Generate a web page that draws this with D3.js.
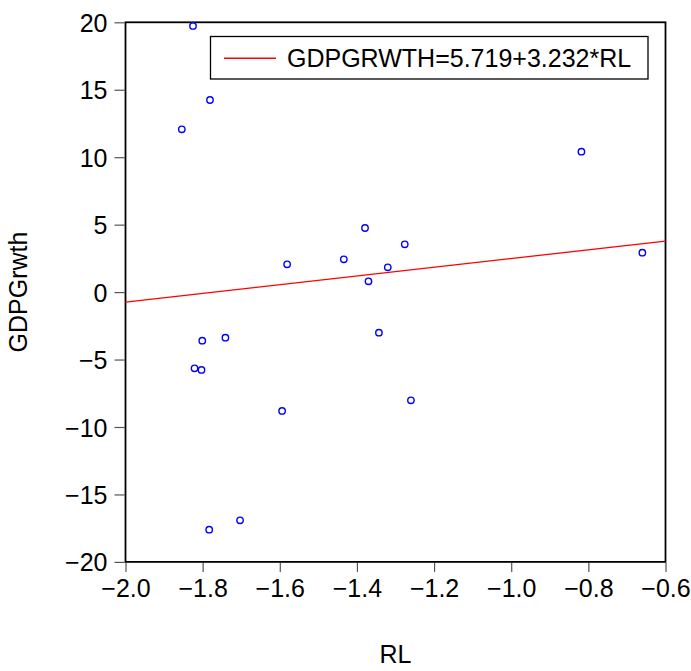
<!DOCTYPE html>
<html>
<head>
<meta charset="utf-8">
<script src="https://cdn.jsdelivr.net/npm/d3@7"></script>
<style>
html,body{margin:0;padding:0;background:#fff;}
svg{display:block;font-family:"Liberation Sans",Arial,sans-serif;}
</style>
</head>
<body>
<svg id="chart" width="691" height="671"></svg>
<script>
const rlValues = [-1.379,-1.276,-1.581,-1.434,-1.320,-1.370,-1.801,-1.741,-1.821,-1.803,-1.343,-1.594,-1.260,-1.825,-1.781,-1.854,-1.783,-1.703,-0.818,-0.660];
const gdpValues = [4.75,3.54,2.06,2.43,1.84,0.80,-3.60,-3.38,-5.65,-5.77,-3.01,-8.81,-8.02,19.73,14.24,12.07,-17.61,-16.92,10.41,2.92];
const xTicks = [-2.0,-1.8,-1.6,-1.4,-1.2,-1.0,-0.8,-0.6];
const yTicks = [20,15,10,5,0,-5,-10,-15,-20];
const fitIntercept = 5.719;
const fitSlope = 3.232;
const legendLabel = "GDPGRWTH=5.719+3.232*RL";
const xTitle = "RL";
const yTitle = "GDPGrwth";

const svg = d3.select("#chart");
const FS = 25;
const L = 125.5, R = 665.5, T = 22.3, B = 561.9;
const x = d3.scaleLinear().domain([-2.0,-0.6]).range([L,R]);
const y = d3.scaleLinear().domain([-20,20]).range([B,T]);

// axes
const xAxis = svg.append("g").attr("transform",`translate(0,${B})`)
  .call(d3.axisBottom(x).tickValues(xTicks).tickFormat(d3.format(".1f")).tickSize(10).tickPadding(8));
const yAxis = svg.append("g").attr("transform",`translate(${L},0)`)
  .call(d3.axisLeft(y).tickValues(yTicks).tickFormat(d3.format("d")).tickSize(11).tickPadding(7));
[xAxis,yAxis].forEach(g=>{
  g.select(".domain").remove();
  g.selectAll(".tick line").attr("stroke","#555").attr("stroke-width",1.2);
  g.selectAll(".tick text").attr("font-size",FS).attr("fill","#000")
   .attr("font-family","'Liberation Sans',Arial,sans-serif");
});
xAxis.selectAll(".tick line").attr("y1",1);
yAxis.selectAll(".tick line").attr("x1",-1);
yAxis.selectAll(".tick text").attr("dy","0.36em");
xAxis.selectAll(".tick text").attr("dy","0.68em");

// frame
svg.append("rect").attr("x",L).attr("y",T).attr("width",R-L).attr("height",B-T)
  .attr("fill","none").attr("stroke","#000").attr("stroke-width",1.8);

// regression line
svg.append("line")
  .attr("x1",x(-2.0)).attr("y1",y(fitIntercept+fitSlope*-2.0))
  .attr("x2",x(-0.6)).attr("y2",y(fitIntercept+fitSlope*-0.6))
  .attr("stroke","#ff0000").attr("stroke-width",1.3);

// points
svg.append("g").selectAll("circle").data(rlValues.map((v,i)=>[v,gdpValues[i]]))
  .join("circle")
  .attr("cx",d=>x(d[0])).attr("cy",d=>y(d[1])).attr("r",3.2)
  .attr("fill","none").attr("stroke","#0000ff").attr("stroke-width",1.4);

// legend
const lg = svg.append("g");
const lt = lg.append("text").attr("x",287).attr("y",66.8).attr("font-size",FS).attr("fill","#000").text(legendLabel);
const tw = lt.node().getComputedTextLength();
lg.insert("rect","text").attr("x",210.5).attr("y",36.5).attr("width",Math.max(437.5, tw+287-210.5+12)).attr("height",42.5)
  .attr("fill","#fff").attr("stroke","#000").attr("stroke-width",1.3);
lg.append("line").attr("x1",224).attr("x2",276).attr("y1",58.3).attr("y2",58.3)
  .attr("stroke","#ff0000").attr("stroke-width",1.5);

// titles
svg.append("text").attr("x",(L+R)/2).attr("y",663).attr("text-anchor","middle")
  .attr("font-size",FS).attr("fill","#000").text(xTitle);
svg.append("text").attr("transform",`translate(27,${(T+B)/2}) rotate(-90)`).attr("text-anchor","middle")
  .attr("font-size",FS).attr("fill","#000").text(yTitle);
</script>
</body>
</html>
